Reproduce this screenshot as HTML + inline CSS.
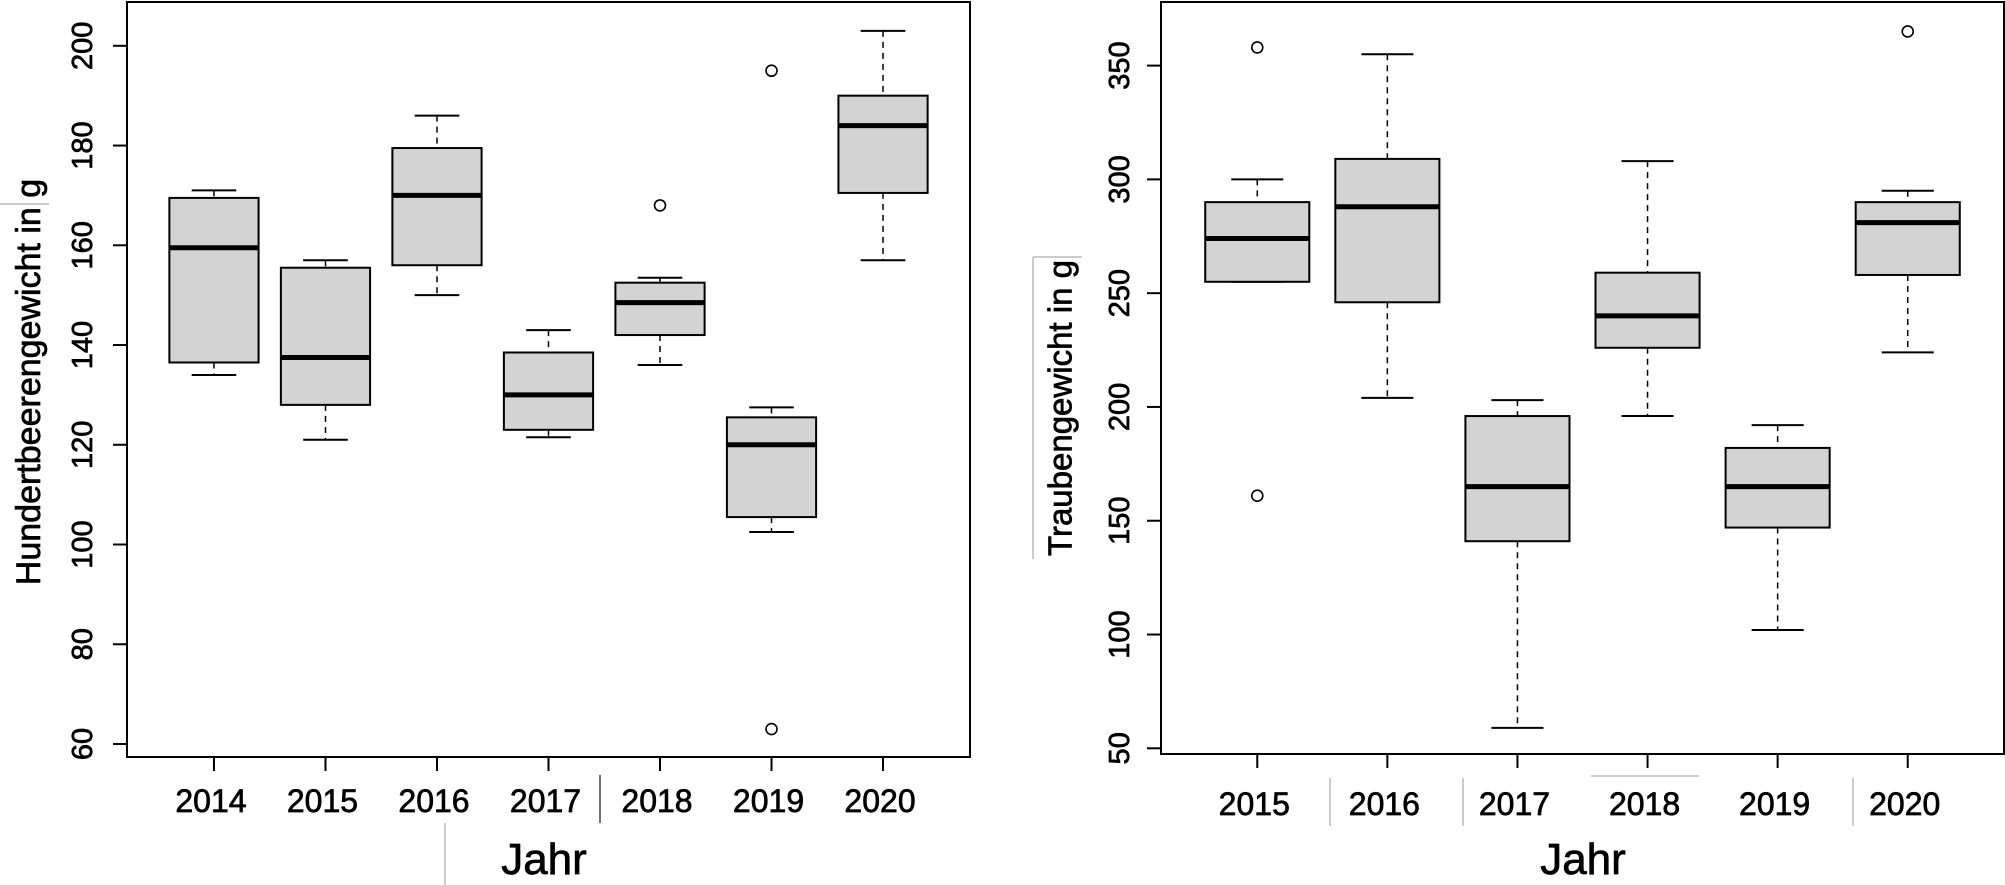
<!DOCTYPE html>
<html><head><meta charset="utf-8"><style>
html,body{margin:0;padding:0;background:#fff}
svg{display:block}
text{font-family:"Liberation Sans",sans-serif;fill:#000;stroke:#000;stroke-width:0.7px}
</style></head><body>
<svg id="c" width="2005" height="885" viewBox="0 0 2005 885" xmlns="http://www.w3.org/2000/svg">
<g stroke="#bbb" stroke-width="1.5">
<line x1="0" y1="204" x2="49" y2="204"/><line x1="600" y1="775" x2="600" y2="823" stroke="#444"/><line x1="445" y1="823" x2="445" y2="885"/>
<line x1="1033" y1="257" x2="1082" y2="257"/><line x1="1033" y1="257" x2="1033" y2="559"/>
<line x1="1330" y1="778" x2="1330" y2="826"/><line x1="1463" y1="778" x2="1463" y2="826"/><line x1="1853" y1="778" x2="1853" y2="826"/><line x1="1591" y1="776" x2="1699" y2="776"/>
</g>
</svg>
<script>
const leftCats=["2014","2015","2016","2017","2018","2019","2020"];
const leftLow=[134,121,150,121.5,136,102.5,157];
const leftQ1=[136.5,128,156,123,142,105.5,170.5];
const leftMed=[159.5,137.5,170,130,148.5,120,184];
const leftQ3=[169.5,155.5,179.5,138.5,152.5,125.5,190];
const leftHigh=[171,157,186,143,153.5,127.5,203];
const leftOut=[[],[],[],[],[168],[195,63],[]];
const leftTicks=[60,80,100,120,140,160,180,200];

const rightCats=["2015","2016","2017","2018","2019","2020"];
const rightLow=[255,204,59,196,102,224];
const rightQ1=[255,246,141,226,147,258];
const rightMed=[274,288,165,240,165,281];
const rightQ3=[290,309,196,259,182,290];
const rightHigh=[300,355,203,308,192,295];
const rightOut=[[358,161],[],[],[],[],[365]];
const rightTicks=[50,100,150,200,250,300,350];

const NS="http://www.w3.org/2000/svg";
const svg=document.getElementById('c');
function mk(tag,attrs,parent){const e=document.createElementNS(NS,tag);for(const k in attrs)e.setAttribute(k,attrs[k]);(parent||svg).appendChild(e);return e;}

function panel(cfg,cats,low,q1,med,q3,high,out,ticks){
  const g=mk('g',{});
  
  
  const n=cats.length;
  const step=(cfg.x1-cfg.x0)/(n*1.08);
  const xs=i=>cfg.x0+step*(0.04*n+0.5+i);
  const ys=v=>cfg.yA+(v-cfg.vA)*(cfg.yB-cfg.yA)/(cfg.vB-cfg.vA);
  const frame=mk('rect',{x:cfg.x0,y:cfg.y0,width:cfg.x1-cfg.x0,height:cfg.y1-cfg.y0,fill:'none',stroke:'#000','stroke-width':2},g);
  
  
  ticks.forEach(t=>{
    const y=ys(t);
    const tl=mk('line',{x1:cfg.x0-14,y1:y,x2:cfg.x0,y2:y,stroke:'#000','stroke-width':2},g);
    
    
    const tx=mk('text',{x:cfg.tlx,y:y,'font-size':29,'text-anchor':'middle','dominant-baseline':'central',transform:`rotate(-90 ${cfg.tlx} ${y})`},g);
    tx.textContent=t;
    
    
  });
  const bw=step*0.8;
  cats.forEach((c,i)=>{
    const x=xs(i);
    const bg=mk('g',{},g);
    
    
    mk('line',{x1:x,y1:cfg.y1,x2:x,y2:cfg.y1+14,stroke:'#000','stroke-width':2},g);
    const lb=mk('text',{x:x-3,y:cfg.lby,'font-size':32,'text-anchor':'middle'},g);
    lb.textContent=c;
    
    
    mk('line',{x1:x,y1:ys(high[i]),x2:x,y2:ys(q3[i]),stroke:'#000','stroke-width':1.5,'stroke-dasharray':'6,5'},bg);
    mk('line',{x1:x,y1:ys(q1[i]),x2:x,y2:ys(low[i]),stroke:'#000','stroke-width':1.5,'stroke-dasharray':'6,5'},bg);
    mk('line',{x1:x-bw/4,y1:ys(high[i]),x2:x+bw/4,y2:ys(high[i]),stroke:'#000','stroke-width':2},bg);
    mk('line',{x1:x-bw/4,y1:ys(low[i]),x2:x+bw/4,y2:ys(low[i]),stroke:'#000','stroke-width':2},bg);
    mk('rect',{x:x-bw/2,y:ys(q3[i]),width:bw,height:ys(q1[i])-ys(q3[i]),fill:'#d3d3d3',stroke:'#000','stroke-width':2},bg);
    mk('line',{x1:x-bw/2,y1:ys(med[i]),x2:x+bw/2,y2:ys(med[i]),stroke:'#000','stroke-width':5},bg);
    out[i].forEach(v=>{
      const o=mk('circle',{cx:x,cy:ys(v),r:5.5,fill:'none',stroke:'#000','stroke-width':1.6},bg);
      
      
    });
  });
  const xt=mk('text',{x:cfg.jx,y:874,'font-size':44,'text-anchor':'middle'},g);
  xt.textContent='Jahr';
  
  
  const yt=mk('text',{x:cfg.ytx,y:cfg.yty,'font-size':cfg.yfs,'text-anchor':'middle','dominant-baseline':'central',transform:`rotate(-90 ${cfg.ytx} ${cfg.yty})`},g);
  yt.textContent=cfg.ytitle;
  
  
}
panel({name:'left-panel',x0:127,x1:970,y0:2,y1:757,yA:744,vA:60,yB:45.8,vB:200,tlx:83,lby:812,jx:544,ytx:29,yty:382,yfs:34,ytitle:'Hundertbeerengewicht in g'},
  leftCats,leftLow,leftQ1,leftMed,leftQ3,leftHigh,leftOut,leftTicks);
panel({name:'right-panel',x0:1161,x1:2004,y0:2,y1:754,yA:748.3,vA:50,yB:65.6,vB:350,tlx:1120,lby:815,jx:1583,ytx:1060,yty:408,yfs:33,ytitle:'Traubengewicht in g'},
  rightCats,rightLow,rightQ1,rightMed,rightQ3,rightHigh,rightOut,rightTicks);
</script>
</body></html>
